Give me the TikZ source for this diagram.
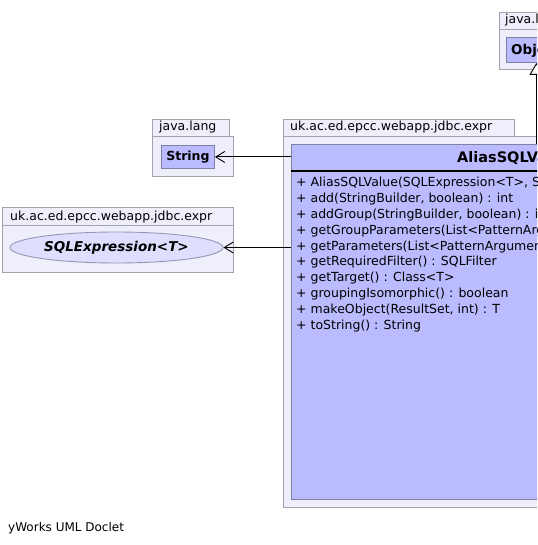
\documentclass[tikz,border=0pt]{standalone}
\usepackage{fontspec}
\setmainfont{DejaVu Sans}
\usetikzlibrary{arrows.meta,shapes.geometric}
\definecolor{pkgfill}{RGB}{239,239,252}
\definecolor{pkgborder}{RGB}{164,164,172}
\definecolor{classfill}{RGB}{187,187,255}
\definecolor{classborder}{RGB}{128,128,160}
\definecolor{ellfill}{RGB}{222,222,255}
\definecolor{ellborder}{RGB}{150,150,180}
\begin{document}
\begin{tikzpicture}[x=1pt,y=-1pt,
  pkg/.style={draw=pkgborder, fill=pkgfill, line width=0.9pt},
  pkglabel/.style={anchor=base west, inner sep=0, font=\fontsize{12.5}{14}\selectfont},
  classbox/.style={draw=classborder, fill=classfill, line width=0.9pt, inner sep=0, anchor=north west},
  member/.style={anchor=base west, inner sep=0, font=\fontsize{12.5}{14}\selectfont},
  dep/.style={draw=black, line width=0.9pt, -{Straight Barb[length=9pt,width=11pt,line width=0.9pt]}},
  gen/.style={draw=black, line width=0.9pt, -{Triangle[open,length=12pt,width=14pt,line width=0.9pt,fill=white]}}
]
\useasboundingbox (0,0) rectangle (537,545);
\clip (0,0) rectangle (537,545);

% top-right package java.lang
\draw[pkg] (499,12) rectangle (600,29);
\draw[pkg] (499,29) rectangle (620,69);
\node[pkglabel] (pkgtr) at (505,24) {java.lang};
\node[classbox, minimum width=60pt, minimum height=25pt] (obj) at (506,37) {};
\node[anchor=base west, inner sep=0, font=\fontsize{13.5}{15}\selectfont\bfseries] (objtxt) at (511,54.5) {Object};

% left package java.lang
\draw[pkg] (152,119) rectangle (229,136);
\draw[pkg] (152,136) rectangle (233,176);
\node[pkglabel] (pkgjl) at (159,131) {java.lang};
\node[classbox, minimum width=53pt, minimum height=23pt, font=\fontsize{12.5}{14}\selectfont\bfseries] (string) at (161,145) {String};

% left package expr
\draw[pkg] (2,207) rectangle (233,225);
\draw[pkg] (2,225) rectangle (233,272);
\node[pkglabel] (pkgex) at (10,220) {uk.ac.ed.epcc.webapp.jdbc.expr};
\node[ellipse, draw=ellborder, fill=ellfill, line width=0.9pt, inner sep=0,
      minimum width=213pt, minimum height=31pt,
      font=\fontsize{13.5}{15}\selectfont\bfseries\itshape] (sqlexpr) at (116.5,247.5) {SQLExpression<T>};

% main package
\draw[pkg] (283,119) rectangle (514,136);
\draw[pkg] (283,136) rectangle (760,507);
\node[pkglabel] (pkgmain) at (290,131) {uk.ac.ed.epcc.webapp.jdbc.expr};
\node[classbox, minimum width=446pt, minimum height=355pt] (alias) at (291,144) {};
\node[anchor=base west, inner sep=0, font=\fontsize{14.5}{17}\selectfont\bfseries] (title) at (457,163) {AliasSQLValue};
\draw[line width=2pt] (alias.west |- 0,171.5) -- (alias.east |- 0,171.5);

\node[member] (m1) at (296,186) {+ AliasSQLValue(SQLExpression<T>, String)};
\node[member] (m2) at (296,202) {+ add(StringBuilder, boolean) : int};
\node[member] (m3) at (296,218) {+ addGroup(StringBuilder, boolean) : int};
\node[member] (m4) at (296,234) {+ getGroupParameters(List<PatternArgument>) : List<PatternArgument>};
\node[member] (m5) at (296,250) {+ getParameters(List<PatternArgument>) : List<PatternArgument>};
\node[member] (m6) at (296,265.5) {+ getRequiredFilter() : SQLFilter};
\node[member] (m7) at (296,281.5) {+ getTarget() : Class<T>};
\node[member] (m8) at (296,297.5) {+ groupingIsomorphic() : boolean};
\node[member] (m9) at (296,313) {+ makeObject(ResultSet, int) : T};
\node[member] (m10) at (296,329) {+ toString() : String};

% connectors
\draw[gen] (obj.south |- alias.north) -- (obj.south);
\draw[dep] (alias.west |- string.east) -- (string.east);
\draw[dep] (alias.west |- sqlexpr.east) -- (sqlexpr.east);

% footer
\node[anchor=base west, inner sep=0, font=\fontsize{12}{14}\selectfont] (footer) at (8,531) {yWorks UML Doclet};
\end{tikzpicture}
\end{document}
